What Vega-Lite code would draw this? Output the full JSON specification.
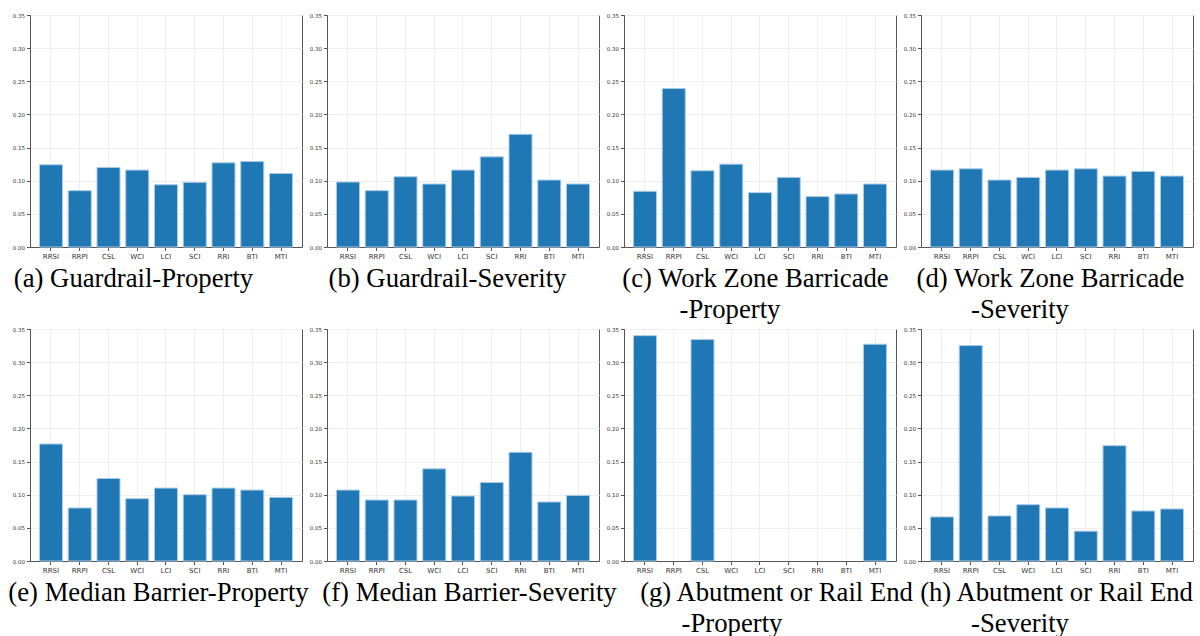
{
  "$schema": "https://vega.github.io/schema/vega-lite/v6.json",
  "autosize": {"type": "pad"},
  "bounds": "flush",
  "padding": {"left": 7, "top": 12, "right": 0, "bottom": 0},
  "background": "white",
  "data": {"values": [
    {"panel": "a", "index": "RRSI", "value": 0.124}, {"panel": "a", "index": "RRPI", "value": 0.085}, {"panel": "a", "index": "CSL", "value": 0.120}, {"panel": "a", "index": "WCI", "value": 0.116}, {"panel": "a", "index": "LCI", "value": 0.094}, {"panel": "a", "index": "SCI", "value": 0.0975}, {"panel": "a", "index": "RRI", "value": 0.127}, {"panel": "a", "index": "BTI", "value": 0.129}, {"panel": "a", "index": "MTI", "value": 0.111},
    {"panel": "b", "index": "RRSI", "value": 0.098}, {"panel": "b", "index": "RRPI", "value": 0.085}, {"panel": "b", "index": "CSL", "value": 0.106}, {"panel": "b", "index": "WCI", "value": 0.095}, {"panel": "b", "index": "LCI", "value": 0.116}, {"panel": "b", "index": "SCI", "value": 0.136}, {"panel": "b", "index": "RRI", "value": 0.170}, {"panel": "b", "index": "BTI", "value": 0.101}, {"panel": "b", "index": "MTI", "value": 0.095},
    {"panel": "c", "index": "RRSI", "value": 0.084}, {"panel": "c", "index": "RRPI", "value": 0.239}, {"panel": "c", "index": "CSL", "value": 0.115}, {"panel": "c", "index": "WCI", "value": 0.125}, {"panel": "c", "index": "LCI", "value": 0.082}, {"panel": "c", "index": "SCI", "value": 0.105}, {"panel": "c", "index": "RRI", "value": 0.076}, {"panel": "c", "index": "BTI", "value": 0.080}, {"panel": "c", "index": "MTI", "value": 0.095},
    {"panel": "d", "index": "RRSI", "value": 0.116}, {"panel": "d", "index": "RRPI", "value": 0.118}, {"panel": "d", "index": "CSL", "value": 0.101}, {"panel": "d", "index": "WCI", "value": 0.105}, {"panel": "d", "index": "LCI", "value": 0.116}, {"panel": "d", "index": "SCI", "value": 0.118}, {"panel": "d", "index": "RRI", "value": 0.107}, {"panel": "d", "index": "BTI", "value": 0.114}, {"panel": "d", "index": "MTI", "value": 0.107},
    {"panel": "e", "index": "RRSI", "value": 0.1765}, {"panel": "e", "index": "RRPI", "value": 0.080}, {"panel": "e", "index": "CSL", "value": 0.1245}, {"panel": "e", "index": "WCI", "value": 0.094}, {"panel": "e", "index": "LCI", "value": 0.110}, {"panel": "e", "index": "SCI", "value": 0.100}, {"panel": "e", "index": "RRI", "value": 0.110}, {"panel": "e", "index": "BTI", "value": 0.107}, {"panel": "e", "index": "MTI", "value": 0.096},
    {"panel": "f", "index": "RRSI", "value": 0.107}, {"panel": "f", "index": "RRPI", "value": 0.092}, {"panel": "f", "index": "CSL", "value": 0.092}, {"panel": "f", "index": "WCI", "value": 0.139}, {"panel": "f", "index": "LCI", "value": 0.098}, {"panel": "f", "index": "SCI", "value": 0.1185}, {"panel": "f", "index": "RRI", "value": 0.164}, {"panel": "f", "index": "BTI", "value": 0.089}, {"panel": "f", "index": "MTI", "value": 0.099},
    {"panel": "g", "index": "RRSI", "value": 0.340}, {"panel": "g", "index": "RRPI", "value": 0}, {"panel": "g", "index": "CSL", "value": 0.334}, {"panel": "g", "index": "WCI", "value": 0}, {"panel": "g", "index": "LCI", "value": 0}, {"panel": "g", "index": "SCI", "value": 0}, {"panel": "g", "index": "RRI", "value": 0}, {"panel": "g", "index": "BTI", "value": 0}, {"panel": "g", "index": "MTI", "value": 0.327},
    {"panel": "h", "index": "RRSI", "value": 0.0665}, {"panel": "h", "index": "RRPI", "value": 0.325}, {"panel": "h", "index": "CSL", "value": 0.068}, {"panel": "h", "index": "WCI", "value": 0.085}, {"panel": "h", "index": "LCI", "value": 0.080}, {"panel": "h", "index": "SCI", "value": 0.045}, {"panel": "h", "index": "RRI", "value": 0.174}, {"panel": "h", "index": "BTI", "value": 0.0755}, {"panel": "h", "index": "MTI", "value": 0.0785}
  ]},
  "columns": 4,
  "spacing": {"row": 82, "column": 25},
  "concat": [
    {"width": 272, "height": 232, "transform": [{"filter": "datum.panel == 'a'"}], "mark": {"type": "bar"}, "encoding": {"x": {"field": "index", "type": "nominal", "sort": ["RRSI","RRPI","CSL","WCI","LCI","SCI","RRI","BTI","MTI"], "axis": {"title": "(a) Guardrail-Property", "titleX": 103}}, "y": {"field": "value", "type": "quantitative", "scale": {"domain": [0, 0.35]}}}},
    {"width": 272, "height": 232, "transform": [{"filter": "datum.panel == 'b'"}], "mark": {"type": "bar"}, "encoding": {"x": {"field": "index", "type": "nominal", "sort": ["RRSI","RRPI","CSL","WCI","LCI","SCI","RRI","BTI","MTI"], "axis": {"title": "(b) Guardrail-Severity", "titleX": 120}}, "y": {"field": "value", "type": "quantitative", "scale": {"domain": [0, 0.35]}}}},
    {"width": 272, "height": 232, "title": {"text": "-Property", "dx": -30}, "transform": [{"filter": "datum.panel == 'c'"}], "mark": {"type": "bar"}, "encoding": {"x": {"field": "index", "type": "nominal", "sort": ["RRSI","RRPI","CSL","WCI","LCI","SCI","RRI","BTI","MTI"], "axis": {"title": "(c) Work Zone Barricade", "titleX": 131}}, "y": {"field": "value", "type": "quantitative", "scale": {"domain": [0, 0.35]}}}},
    {"width": 272, "height": 232, "title": {"text": "-Severity", "dx": -37}, "transform": [{"filter": "datum.panel == 'd'"}], "mark": {"type": "bar"}, "encoding": {"x": {"field": "index", "type": "nominal", "sort": ["RRSI","RRPI","CSL","WCI","LCI","SCI","RRI","BTI","MTI"], "axis": {"title": "(d) Work Zone Barricade", "titleX": 129}}, "y": {"field": "value", "type": "quantitative", "scale": {"domain": [0, 0.35]}}}},
    {"width": 272, "height": 232, "transform": [{"filter": "datum.panel == 'e'"}], "mark": {"type": "bar"}, "encoding": {"x": {"field": "index", "type": "nominal", "sort": ["RRSI","RRPI","CSL","WCI","LCI","SCI","RRI","BTI","MTI"], "axis": {"title": "(e) Median Barrier-Property", "titleX": 128}}, "y": {"field": "value", "type": "quantitative", "scale": {"domain": [0, 0.35]}}}},
    {"width": 272, "height": 232, "transform": [{"filter": "datum.panel == 'f'"}], "mark": {"type": "bar"}, "encoding": {"x": {"field": "index", "type": "nominal", "sort": ["RRSI","RRPI","CSL","WCI","LCI","SCI","RRI","BTI","MTI"], "axis": {"title": "(f) Median Barrier-Severity", "titleX": 142}}, "y": {"field": "value", "type": "quantitative", "scale": {"domain": [0, 0.35]}}}},
    {"width": 272, "height": 232, "title": {"text": "-Property", "dx": -28}, "transform": [{"filter": "datum.panel == 'g'"}], "mark": {"type": "bar"}, "encoding": {"x": {"field": "index", "type": "nominal", "sort": ["RRSI","RRPI","CSL","WCI","LCI","SCI","RRI","BTI","MTI"], "axis": {"title": "(g) Abutment or Rail End", "titleX": 152}}, "y": {"field": "value", "type": "quantitative", "scale": {"domain": [0, 0.35]}}, "strokeWidth": {"condition": {"test": "datum.value == 0", "value": 0}, "value": 1}}},
    {"width": 272, "height": 232, "title": {"text": "-Severity", "dx": -37}, "transform": [{"filter": "datum.panel == 'h'"}], "mark": {"type": "bar"}, "encoding": {"x": {"field": "index", "type": "nominal", "sort": ["RRSI","RRPI","CSL","WCI","LCI","SCI","RRI","BTI","MTI"], "axis": {"title": "(h) Abutment or Rail End", "titleX": 135}}, "y": {"field": "value", "type": "quantitative", "scale": {"domain": [0, 0.35]}}}}
  ],
  "config": {
    "view": {"stroke": "#555555", "strokeWidth": 1},
    "bar": {"color": "#1f77b4", "stroke": "#a9cbe8", "strokeWidth": 1},
    "scale": {"bandPaddingInner": 0.2, "bandPaddingOuter": 0.33},
    "axis": {"domainColor": "#555555", "tickColor": "#555555", "tickSize": 3.5, "labelFont": "DejaVu Sans", "labelColor": "#333333", "labelPadding": 2, "grid": true, "gridColor": "#eeeeee", "gridWidth": 1},
    "axisX": {"labelAngle": 0, "labelFontSize": 7, "bandPosition": 0.5, "titleFont": "Liberation Serif", "titleFontSize": 26.7, "titleFontWeight": "normal", "titleColor": "#000000", "titleAlign": "center", "titleAnchor": null, "titleY": 39, "titleBaseline": "alphabetic"},
    "axisY": {"title": null, "labelFontSize": 5.5, "values": [0, 0.05, 0.1, 0.15, 0.2, 0.25, 0.3, 0.35], "format": ".2f"},
    "title": {"orient": "bottom", "anchor": "middle", "frame": "group", "font": "Liberation Serif", "fontSize": 26.7, "fontWeight": "normal", "color": "#000000", "baseline": "top", "offset": 5}
  }
}
